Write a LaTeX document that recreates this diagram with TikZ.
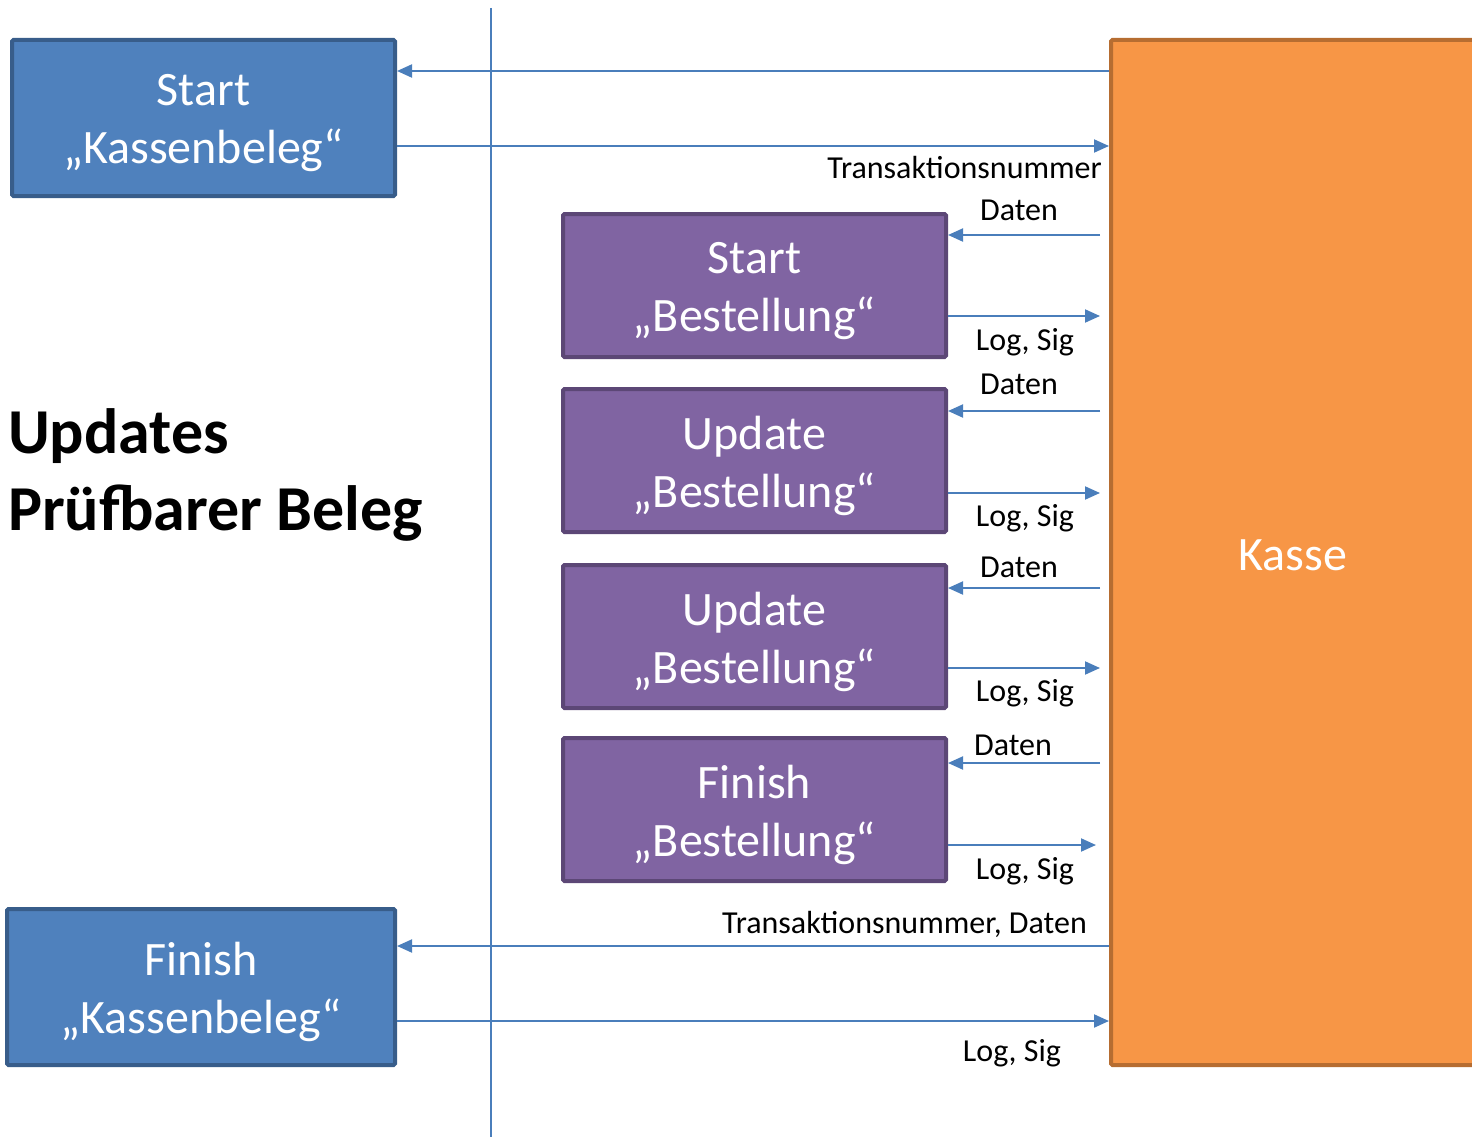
\documentclass[tikz,border=0pt]{standalone}
\usepackage{fontspec}
\setmainfont{Carlito}
\usetikzlibrary{arrows.meta}
\definecolor{bluefill}{HTML}{4F81BD}
\definecolor{blueline}{HTML}{385D8A}
\definecolor{purfill}{HTML}{8064A2}
\definecolor{purline}{HTML}{5C4776}
\definecolor{orfill}{HTML}{F79646}
\definecolor{orline}{HTML}{B66D31}
\definecolor{arrowc}{HTML}{4A7EBB}
\tikzset{
  boxbase/.style={line width=4pt, rounded corners=1.5pt, inner sep=0pt},
  bluebox/.style={boxbase, draw=blueline, fill=bluefill},
  purbox/.style={boxbase, draw=purline, fill=purfill},
  boxtext/.style={text=white, align=center, inner sep=0pt, font=\fontsize{48}{58}\selectfont},
  flow/.style={draw=arrowc, line width=2pt, -{Triangle[length=15pt,width=13pt]}},
  lbl/.style={font=\fontsize{32}{36}\selectfont, inner sep=0pt, text=black},
}
\begin{document}
\begin{tikzpicture}[x=1pt,y=-1pt]
\useasboundingbox (0,0) rectangle (1472,1137);
% vertical line
\coordinate (vt) at (491,8);
\coordinate (vb) at (491,1137);
\draw[draw=arrowc, line width=2pt] (vt) -- (vb);
% boxes
\node[bluebox, minimum width=383pt, minimum height=156pt] (b1) at (203.5,118) {};
\node[boxtext] (b1t) at (203.5,123) {Start\\„Kassenbeleg“};
\node[bluebox, minimum width=388pt, minimum height=156pt] (b2) at (201,987) {};
\node[boxtext] (b2t) at (201,992) {Finish\\„Kassenbeleg“};
\node[draw=orline, fill=orfill, line width=4pt, rounded corners=1.5pt, inner sep=0pt, minimum width=380pt, minimum height=1025pt] (kasse) at (1301,552.5) {};
\node[text=white, font=\fontsize{48}{56}\selectfont, inner sep=0pt] (kt) at (1293,555) {Kasse};
\node[purbox, minimum width=383pt, minimum height=143pt] (p1) at (754.5,285.5) {};
\node[boxtext] (p1t) at (754.5,291.5) {Start\\„Bestellung“};
\node[purbox, minimum width=383pt, minimum height=143pt] (p2) at (754.5,460.5) {};
\node[boxtext] (p2t) at (754.5,466) {Update\\„Bestellung“};
\node[purbox, minimum width=383pt, minimum height=143pt] (p3) at (754.5,636.5) {};
\node[boxtext] (p3t) at (754.5,642) {Update\\„Bestellung“};
\node[purbox, minimum width=383pt, minimum height=143pt] (p4) at (754.5,809.5) {};
\node[boxtext] (p4t) at (754.5,814.5) {Finish\\„Bestellung“};
% title
\node[anchor=west, font=\fontsize{64}{77}\selectfont\bfseries, align=left, inner sep=0pt] (title) at (8,475) {Updates\\Prüfbarer Beleg};
% coordinates for free ends
\coordinate (k1) at (1100,235);
\coordinate (k2) at (1100,316);
\coordinate (k3) at (1100,411);
\coordinate (k4) at (1100,493);
\coordinate (k5) at (1100,588);
\coordinate (k6) at (1100,668);
\coordinate (k7) at (1100,763);
\coordinate (k8) at (1096,845);
% main arrows
\draw[flow] (kasse.west |- 0,71) -- (b1.east |- 0,71);
\draw[flow] (b1.east |- 0,146) -- (kasse.west |- 0,146);
\draw[flow] (kasse.west |- 0,946) -- (b2.east |- 0,946);
\draw[flow] (b2.east |- 0,1021) -- (kasse.west |- 0,1021);
% order arrows
\draw[flow] (k1) -- (p1.east |- k1);
\draw[flow] (p1.east |- k2) -- (k2);
\draw[flow] (k3) -- (p2.east |- k3);
\draw[flow] (p2.east |- k4) -- (k4);
\draw[flow] (k5) -- (p3.east |- k5);
\draw[flow] (p3.east |- k6) -- (k6);
\draw[flow] (k7) -- (p4.east |- k7);
\draw[flow] (p4.east |- k8) -- (k8);
% labels
\node[lbl, anchor=east] (l0) at (1102,168) {Transaktionsnummer};
\node[lbl] (l1) at (1019,210) {Daten};
\node[lbl] (l2) at (1025,342) {Log, Sig};
\node[lbl] (l3) at (1019,384) {Daten};
\node[lbl] (l4) at (1025,518) {Log, Sig};
\node[lbl] (l5) at (1019,567) {Daten};
\node[lbl] (l6) at (1025,693) {Log, Sig};
\node[lbl] (l7) at (1013,745) {Daten};
\node[lbl] (l8) at (1025,871) {Log, Sig};
\node[lbl, anchor=east] (l9) at (1087,924) {Transaktionsnummer, Daten};
\node[lbl] (l10) at (1012,1053) {Log, Sig};
\end{tikzpicture}
\end{document}
